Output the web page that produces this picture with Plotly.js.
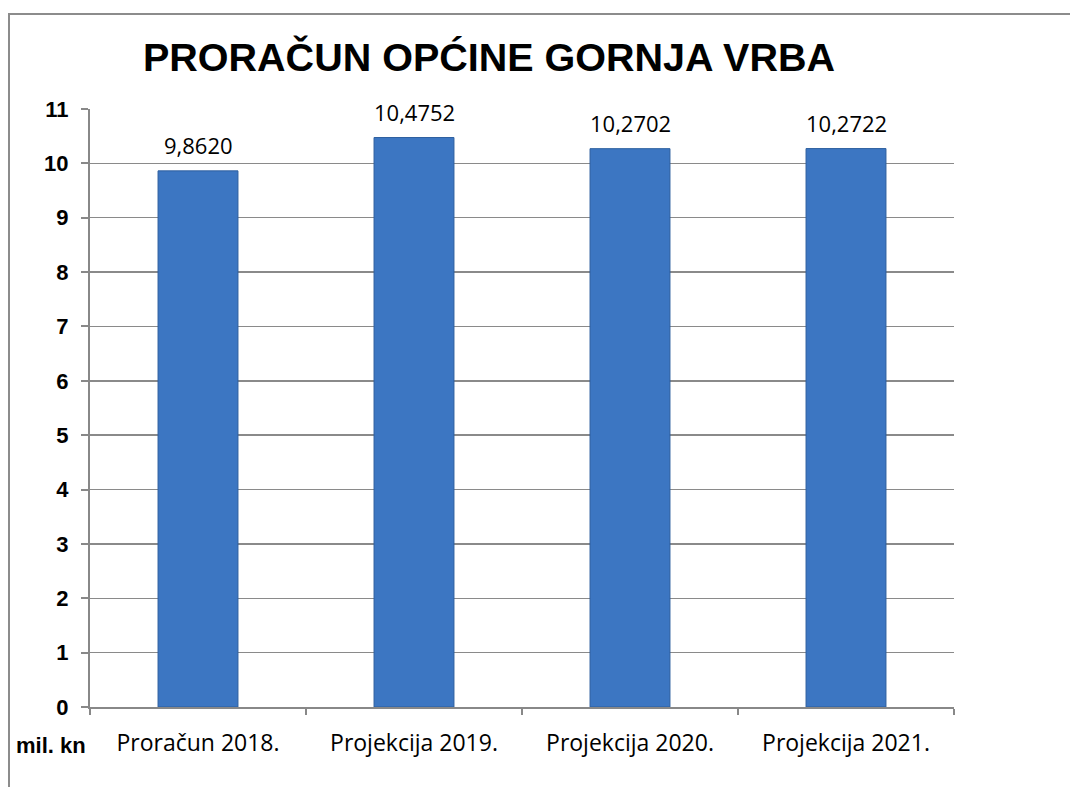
<!DOCTYPE html>
<html><head><meta charset="utf-8">
<script src="https://cdn.plot.ly/plotly-3.0.1.min.js"></script>
<style>
html,body{margin:0;padding:0;background:#fff;}
#frame{position:absolute;left:8px;top:13px;width:1062px;height:774px;border-left:2px solid #8c8c8c;border-top:2px solid #8c8c8c;box-sizing:border-box;}
#chart{position:absolute;left:0;top:0;width:1070px;height:787px;}
</style>
</head><body>
<div id="frame"></div>
<div id="chart"></div>
<script>
const categories = ["Proračun 2018.", "Projekcija 2019.", "Projekcija 2020.", "Projekcija 2021."];
const values = [9.8620, 10.4752, 10.2702, 10.2722];
const yTicks = [0,1,2,3,4,5,6,7,8,9,10,11];
const titleText = "PRORAČUN OPĆINE GORNJA VRBA";
const unitLabel = "mil. kn";

const labels = values.map(v => v.toFixed(4).replace('.', ','));

const trace = {
  type: 'bar',
  x: categories,
  y: values,
  marker: {color: '#3c76c2', line: {color: '#2d5f9f', width: 1}},
  hoverinfo: 'none'
};

const valueAnnotations = categories.map((c, i) => ({
  text: labels[i], x: c, y: values[i], xref: 'x', yref: 'y',
  xanchor: 'center', yanchor: 'bottom', yshift: 9, showarrow: false,
  font: {family: 'Open Sans, DejaVu Sans, sans-serif', size: 22, color: '#000'}
}));

const layout = {
  width: 1070, height: 787,
  paper_bgcolor: 'rgba(0,0,0,0)', plot_bgcolor: 'rgba(0,0,0,0)',
  margin: {l: 90, r: 116, t: 109, b: 80},
  bargap: 0.63,
  showlegend: false,
  title: {text: titleText, x: 0.457, xanchor: 'center', y: 0.927, yanchor: 'middle',
          font: {family: 'Liberation Sans, Arial, sans-serif', size: 39.5, color: '#000', weight: 'bold'}},
  xaxis: {
    type: 'category', tickson: 'boundaries', ticks: 'outside', ticklen: 6, tickcolor: '#888', tickwidth: 2,
    showline: true, linecolor: '#888', linewidth: 2, showgrid: false,
    tickfont: {family: 'Open Sans, DejaVu Sans, sans-serif', size: 23, color: '#000'},
    ticklabelstandoff: 14
  },
  yaxis: {
    range: [0, 11], tickvals: yTicks, ticks: 'outside', ticklen: 7, tickcolor: '#888', tickwidth: 2,
    showline: true, linecolor: '#888', linewidth: 2, showgrid: true, gridcolor: '#8a8a8a', gridwidth: 1.5,
    zeroline: false,
    tickfont: {family: 'Liberation Sans, Arial, sans-serif', size: 22, color: '#000', weight: 'bold'},
    ticklabelstandoff: 8
  },
  annotations: valueAnnotations.concat([{
    text: unitLabel, xref: 'paper', yref: 'paper', x: -0.088, y: -0.064, xanchor: 'left', yanchor: 'middle',
    showarrow: false, font: {family: 'Liberation Sans, Arial, sans-serif', size: 22, color: '#000', weight: 'bold'}
  }])
};

Plotly.newPlot('chart', [trace], layout, {displayModeBar: false, staticPlot: true});
</script>
</body></html>
